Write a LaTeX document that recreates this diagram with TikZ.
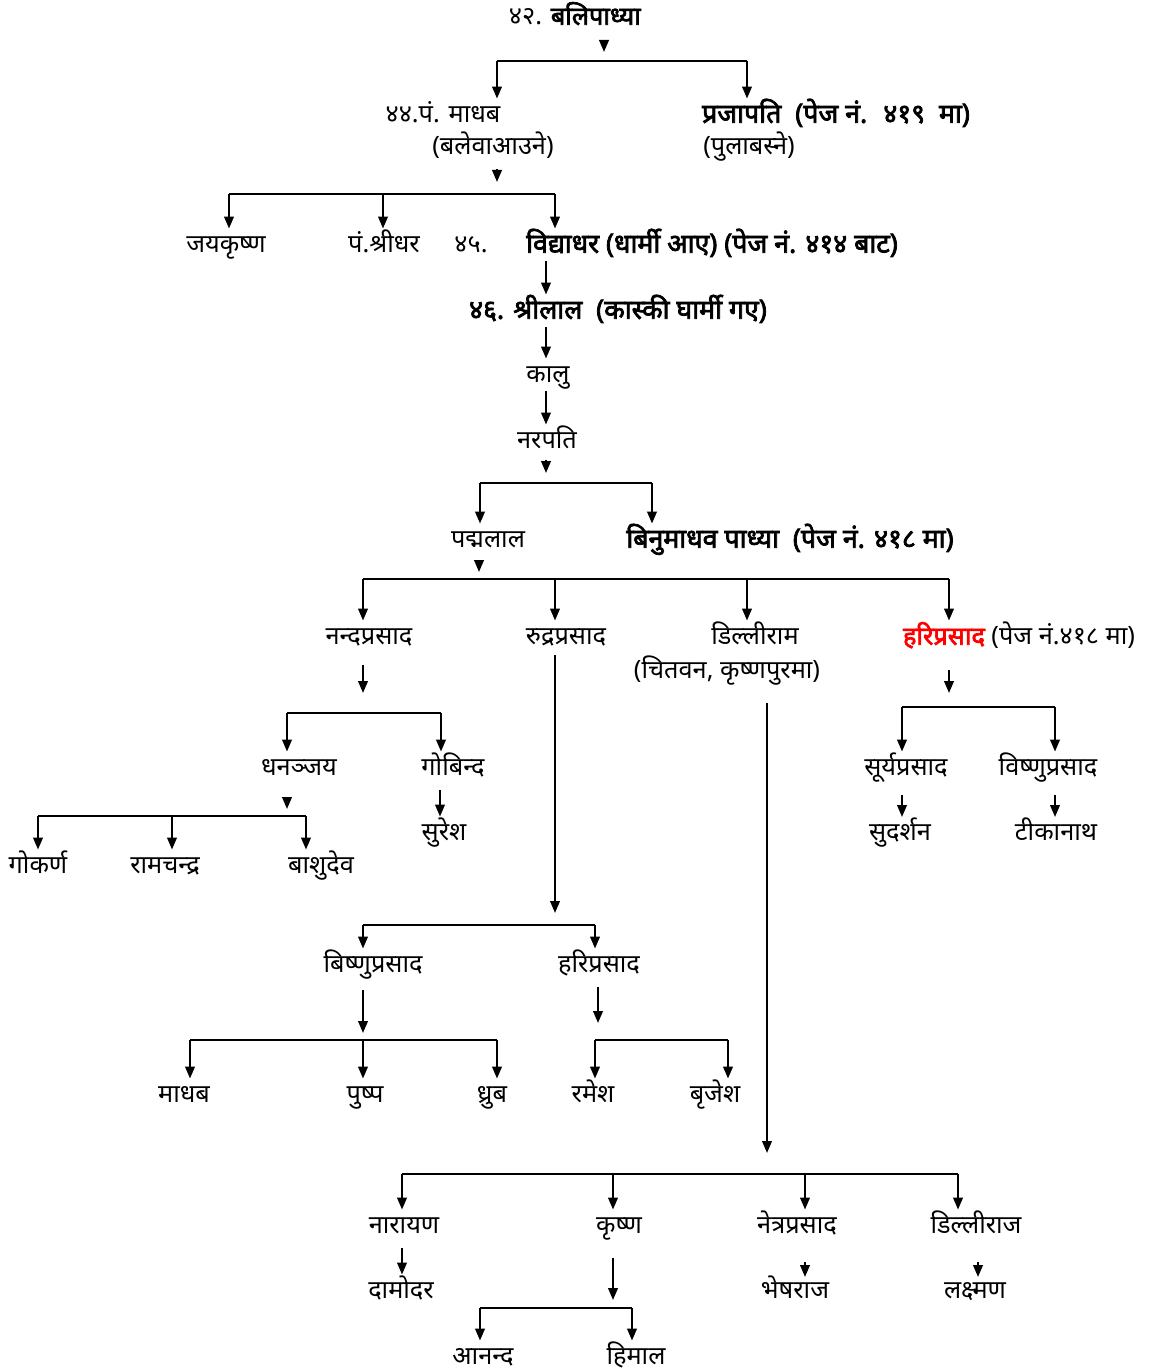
\documentclass[tikz,border=0pt]{standalone}
\usepackage{fontspec}
\usepackage{xcolor}
\newfontfamily\dev[Script=Devanagari, AutoFakeBold=2.8]{Noto Sans}
\usetikzlibrary{arrows.meta}

\begin{document}
\begin{tikzpicture}[
    x=0.025cm, y=-0.025cm,
    nm/.style={font=\dev\fontsize{18}{20}\selectfont, inner sep=0pt, text height=17pt, text depth=6pt},
    nmb/.style={nm, font=\dev\bfseries\fontsize{19}{21}\selectfont},
    arr/.style={draw=black, line width=1.5pt, -{Triangle[length=3mm, width=2.4mm]}},
    bar/.style={draw=black, line width=1.5pt}
]
    \useasboundingbox (0,0) rectangle (1152,1372);

    % Generation 42 - 46
    \node[nm] (bali) at (575,17) {४२. \textbf{बलिपाध्या}};
    \node[nm] (madhab) at (443,115) {४४.पं. माधब};
    \node[nm] (balewa) at (493,147) {(बलेवाआउने)};
    \node[nmb] (praja) at (836,115) {प्रजापति \ (पेज नं. \ ४१९ \ मा)};
    \node[nm] (pula) at (749,147) {(पुलाबस्ने)};
    \node[nm] (jaya) at (226,245) {जयकृष्ण};
    \node[nm] (shridhar) at (384,245) {पं.श्रीधर};
    \node[nm] (n45) at (471,245) {४५.};
    \node[nmb] (vidya) at (712,245) {विद्याधर (धार्मी आए) (पेज नं. ४१४ बाट)};
    \node[nmb] (shrilal) at (618,311) {४६. श्रीलाल \ (कास्की घार्मी गए)};
    \node[nm] (kalu) at (548,375) {कालु};
    \node[nm] (narapati) at (547,441) {नरपति};

    % Padmalal and Binumadhab
    \node[nm] (padma) at (488,540) {पद्मलाल};
    \node[nmb] (binu) at (790,540) {बिनुमाधव पाध्या \ (पेज नं. ४१८ मा)};

    % Sons of Padmalal
    \node[nm] (nanda) at (369,637) {नन्दप्रसाद};
    \node[nm] (rudra) at (566,637) {रुद्रप्रसाद};
    \node[nm] (dilli) at (755,637) {डिल्लीराम};
    \node[nm] (chitwan) at (727,671) {(चितवन, कृष्णपुरमा)};
    \node[nm] (hari) at (1019,637) {\textcolor{red}{\bfseries हरिप्रसाद} (पेज नं.४१८ मा)};

    % Nandaprasad branch
    \node[nm] (dhan) at (299,768) {धनञ्जय};
    \node[nm] (gobinda) at (453,768) {गोबिन्द};
    \node[nm] (suresh) at (444,833) {सुरेश};
    \node[nm] (gokarna) at (38,866) {गोकर्ण};
    \node[nm] (ram) at (165,866) {रामचन्द्र};
    \node[nm] (bashu) at (321,866) {बाशुदेव};

    % Hariprasad branch
    \node[nm] (surya) at (906,768) {सूर्यप्रसाद};
    \node[nm] (vishnu) at (1048,768) {विष्णुप्रसाद};
    \node[nm] (sudarshan) at (900,833) {सुदर्शन};
    \node[nm] (tika) at (1056,833) {टीकानाथ};

    % Rudraprasad branch
    \node[nm] (bishnu) at (373,965) {बिष्णुप्रसाद};
    \node[nm] (hari2) at (599,965) {हरिप्रसाद};
    \node[nm] (madhab2) at (184,1095) {माधब};
    \node[nm] (pushpa) at (365,1095) {पुष्प};
    \node[nm] (dhruba) at (492,1095) {ध्रुब};
    \node[nm] (ramesh) at (593,1095) {रमेश};
    \node[nm] (brijesh) at (715,1095) {बृजेश};

    % Dilliram branch
    \node[nm] (narayan) at (404,1226) {नारायण};
    \node[nm] (krishna) at (619,1226) {कृष्ण};
    \node[nm] (netra) at (797,1226) {नेत्रप्रसाद};
    \node[nm] (dilliraj) at (976,1226) {डिल्लीराज};
    \node[nm] (damodar) at (401,1291) {दामोदर};
    \node[nm] (bhesh) at (795,1291) {भेषराज};
    \node[nm] (laxman) at (975,1291) {लक्ष्मण};
    \node[nm] (ananda) at (483,1357) {आनन्द};
    \node[nm] (himal) at (636,1357) {हिमाल};

    % Connectors
    \coordinate (t42) at (604,40);
    \draw[arr] (t42) -- ++(0,12);
    \coordinate (b42l) at (497,61);
    \coordinate (b42r) at (747,61);
    \draw[bar] (b42l) -- (b42r);
    \draw[arr] (b42l) -- (b42l |- madhab.north);
    \draw[arr] (b42r) -- (b42r |- praja.north);

    \coordinate (t44) at (497,169);
    \draw[arr] (t44) -- ++(0,13);
    \coordinate (b44l) at (229,194);
    \coordinate (b44m) at (383,194);
    \coordinate (b44r) at (555,194);
    \draw[bar] (b44l) -- (b44r);
    \draw[arr] (b44l) -- (b44l |- jaya.north);
    \draw[arr] (b44m) -- (b44m |- shridhar.north);
    \draw[arr] (b44r) -- (b44r |- vidya.north);

    \coordinate (c45) at (546,0);
    \draw[arr] (vidya.south -| c45) -- (shrilal.north -| c45);
    \draw[arr] (shrilal.south -| c45) -- (kalu.north -| c45);
    \draw[arr] (kalu.south -| c45) -- (narapati.north -| c45);

    \coordinate (tnp) at (546,460);
    \draw[arr] (tnp) -- ++(0,13);
    \coordinate (bnpl) at (480,483);
    \coordinate (bnpr) at (652,483);
    \draw[bar] (bnpl) -- (bnpr);
    \draw[arr] (bnpl) -- (bnpl |- padma.north);
    \draw[arr] (bnpr) -- (bnpr |- binu.north);

    \coordinate (tpl) at (479,560);
    \draw[arr] (tpl) -- ++(0,12);
    \coordinate (bpl1) at (363,579);
    \coordinate (bpl2) at (555,579);
    \coordinate (bpl3) at (747,579);
    \coordinate (bpl4) at (949,579);
    \draw[bar] (bpl1) -- (bpl4);
    \draw[arr] (bpl1) -- (bpl1 |- nanda.north);
    \draw[arr] (bpl2) -- (bpl2 |- rudra.north);
    \draw[arr] (bpl3) -- (bpl3 |- dilli.north);
    \draw[arr] (bpl4) -- (bpl4 |- hari.north);

    % Nandaprasad
    \coordinate (tnd) at (363,665);
    \draw[arr] (tnd) -- ++(0,28);
    \coordinate (bndl) at (287,713);
    \coordinate (bndr) at (441,713);
    \draw[bar] (bndl) -- (bndr);
    \draw[arr] (bndl) -- (bndl |- dhan.north);
    \draw[arr] (bndr) -- (bndr |- gobinda.north);
    \coordinate (tdh) at (287,797);
    \draw[arr] (tdh) -- ++(0,12);
    \coordinate (bdh1) at (38,816);
    \coordinate (bdh2) at (172,816);
    \coordinate (bdh3) at (306,816);
    \draw[bar] (bdh1) -- (bdh3);
    \draw[arr] (bdh1) -- (bdh1 |- gokarna.north);
    \draw[arr] (bdh2) -- (bdh2 |- ram.north);
    \draw[arr] (bdh3) -- (bdh3 |- bashu.north);
    \coordinate (tgb) at (440,790);
    \draw[arr] (tgb) -- (tgb |- suresh.north);

    % Rudraprasad
    \coordinate (trd) at (555,655);
    \coordinate (brdl) at (363,925);
    \coordinate (brdr) at (595,925);
    \draw[arr] (trd) -- ++(0,258);
    \draw[bar] (brdl) -- (brdr);
    \draw[arr] (brdl) -- (brdl |- bishnu.north);
    \draw[arr] (brdr) -- (brdr |- hari2.north);
    \coordinate (tbs) at (363,990);
    \draw[arr] (tbs) -- ++(0,43);
    \coordinate (bbs1) at (190,1040);
    \coordinate (bbs2) at (363,1040);
    \coordinate (bbs3) at (497,1040);
    \draw[bar] (bbs1) -- (bbs3);
    \draw[arr] (bbs1) -- (bbs1 |- madhab2.north);
    \draw[arr] (bbs2) -- (bbs2 |- pushpa.north);
    \draw[arr] (bbs3) -- (bbs3 |- dhruba.north);
    \coordinate (thr) at (598,987);
    \draw[arr] (thr) -- ++(0,36);
    \coordinate (bhrl) at (595,1040);
    \coordinate (bhrr) at (728,1040);
    \draw[bar] (bhrl) -- (bhrr);
    \draw[arr] (bhrl) -- (bhrl |- ramesh.north);
    \draw[arr] (bhrr) -- (bhrr |- brijesh.north);

    % Dilliram
    \coordinate (tdl) at (767,703);
    \draw[arr] (tdl) -- ++(0,450);
    \coordinate (bdl1) at (402,1174);
    \coordinate (bdl2) at (613,1174);
    \coordinate (bdl3) at (805,1174);
    \coordinate (bdl4) at (958,1174);
    \draw[bar] (bdl1) -- (bdl4);
    \draw[arr] (bdl1) -- (bdl1 |- narayan.north);
    \draw[arr] (bdl2) -- (bdl2 |- krishna.north);
    \draw[arr] (bdl3) -- (bdl3 |- netra.north);
    \draw[arr] (bdl4) -- (bdl4 |- dilliraj.north);
    \coordinate (tny) at (402,1248);
    \draw[arr] (tny) -- (tny |- damodar.north);
    \coordinate (tkr) at (613,1258);
    \draw[arr] (tkr) -- ++(0,42);
    \coordinate (bkrl) at (480,1308);
    \coordinate (bkrr) at (632,1308);
    \draw[bar] (bkrl) -- (bkrr);
    \draw[arr] (bkrl) -- (bkrl |- ananda.north);
    \draw[arr] (bkrr) -- (bkrr |- himal.north);
    \coordinate (tnt) at (805,1262);
    \draw[arr] (tnt) -- ++(0,15);
    \coordinate (tdr) at (978,1262);
    \draw[arr] (tdr) -- ++(0,15);

    % Hariprasad
    \coordinate (thp) at (949,670);
    \draw[arr] (thp) -- ++(0,23);
    \coordinate (bhpl) at (902,707);
    \coordinate (bhpr) at (1055,707);
    \draw[bar] (bhpl) -- (bhpr);
    \draw[arr] (bhpl) -- (bhpl |- surya.north);
    \draw[arr] (bhpr) -- (bhpr |- vishnu.north);
    \coordinate (tsy) at (902,795);
    \draw[arr] (tsy) -- ++(0,22);
    \coordinate (tvs) at (1055,795);
    \draw[arr] (tvs) -- ++(0,22);
\end{tikzpicture}
\end{document}
